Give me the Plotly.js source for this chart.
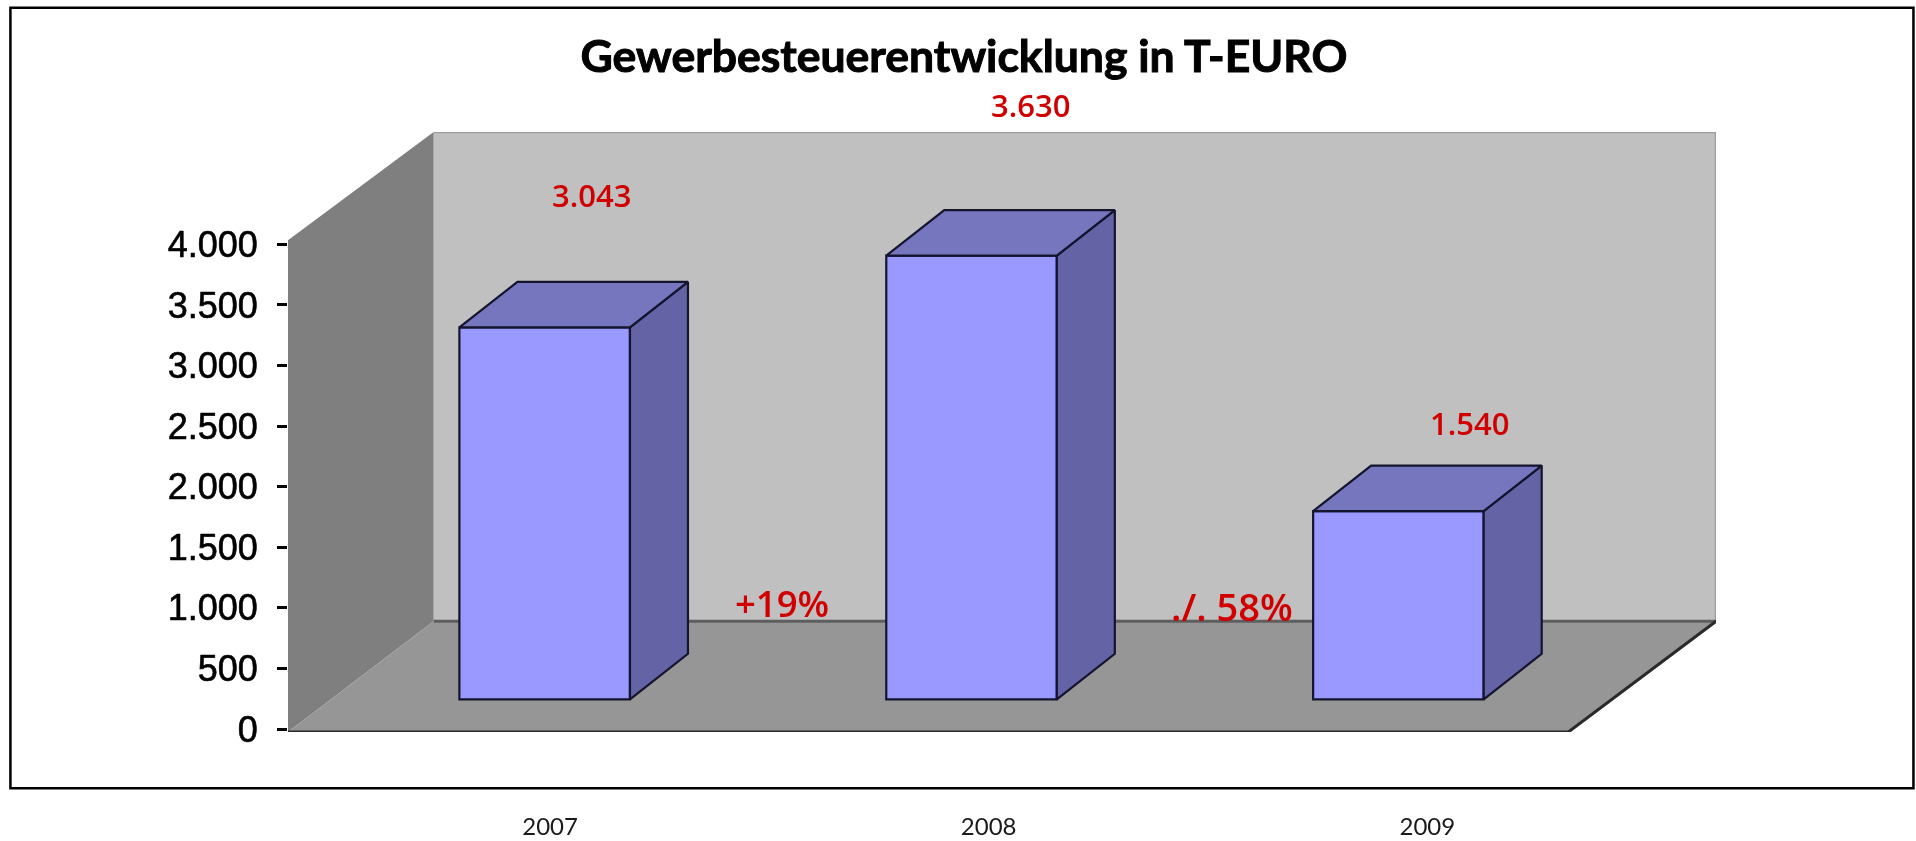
<!DOCTYPE html>
<html>
<head>
<meta charset="utf-8">
<script src="https://cdn.plot.ly/plotly-3.0.1.min.js"></script>
<style>
html,body{margin:0;padding:0;background:#fff;overflow:hidden}
#chart{width:1916px;height:841px;filter:blur(0.4px)}
text.gtitle{stroke:#000;stroke-width:1px}
.ytick text{stroke:#000;stroke-width:0.6px}
</style>
</head>
<body>
<div id="chart"></div>
<script>
// ---- data ----
const years = [2007, 2008, 2009];
const values = [3043, 3630, 1540];
const valueLabels = ['3.043', '3.630', '1.540'];
const changeLabels = ['+19%', './. 58%'];
const yTicks = [0, 500, 1000, 1500, 2000, 2500, 3000, 3500, 4000];
const yTickLabels = ['0', '500', '1.000', '1.500', '2.000', '2.500', '3.000', '3.500', '4.000'];
const chartTitle = 'Gewerbesteuerentwicklung in T-EURO';

// ---- plot frame (page pixels) ----
const W = 1916, H = 841;
const L = 288, R = 1715.6, T = 131.7, B = 731.7;
const px = x => (x - L) / (R - L);
const py = y => (B - y) / (B - T);

// index axis: bar positions
const idxScale = 426.75, idx0 = 544.6;
const idxRange = [(L - idx0) / idxScale, (R - idx0) / idxScale];
const toIdx = x => (x - idx0) / idxScale;
// visible value axis
const yScale = 0.12116, yZero = 728.7;
const yRange = [(yZero - B) / yScale, (yZero - T) / yScale];
const toY = y => (yZero - y) / yScale;
// bar value axis (bars stand further back, on the floor)
const barScale = 0.1222, barZero = 699;
const barRange = [(barZero - B) / barScale, (barZero - T) / barScale];
// year label axis
const yearScale = 438.5, yearLeft = 550;
const yearRange = [years[0] + (L - yearLeft) / yearScale, years[0] + (R - yearLeft) / yearScale];

const barW = 170.5 / idxScale;
const dX = 58 / idxScale, dY = 45.5 / barScale;

function poly(xs, ys, fill, line, lw, yaxis) {
  return {
    type: 'scatter', mode: lw ? 'lines' : 'none', x: xs, y: ys, fill: 'toself', fillcolor: fill,
    line: {color: line || fill, width: lw || 0}, xaxis: 'x', yaxis: yaxis || 'y',
    hoverinfo: 'skip', cliponaxis: false
  };
}
function seg(xs, ys, color, w) {
  return {
    type: 'scatter', mode: 'lines', x: xs, y: ys, line: {color: color, width: w},
    xaxis: 'x', yaxis: 'y', hoverinfo: 'skip', cliponaxis: false
  };
}

// room corners
const xFL = toIdx(L), xBL = toIdx(433.6), xFR = toIdx(1568), xBR = toIdx(R);
const yFront = toY(B), yRear = toY(621), yTop = toY(T), yWallFront = toY(240);

const room = [
  poly([xBL, xBR, xBR, xBL], [yRear, yRear, yTop, yTop], '#c0c0c0'),
  poly([xFL, xBL, xBL, xFL], [yFront, yRear, yTop, yWallFront], '#7f7f7f'),
  poly([xFL, xFR, xBR, xBL], [yFront, yFront, yRear, yRear], '#969696'),
  seg([xBL, xBR, xBR], [yTop, yTop, yRear], '#9c9c9c', 2.5),
  seg([xBL, xBR], [yRear, yRear], '#5e5e5e', 3),
  seg([xFL, xFR, xBR], [yFront, yFront, yRear], '#2a2a2a', 3)
];

const edge = '#14142e';
const idx = years.map((_, i) => i);
const barFront = {
  type: 'bar', x: idx, y: values, width: barW, xaxis: 'x', yaxis: 'y2',
  marker: {color: '#9999ff', line: {color: edge, width: 2.2}}, hoverinfo: 'skip'
};
const faces = [];
values.forEach((v, i) => {
  const a = i - barW / 2, b = i + barW / 2;
  faces.push(poly([b, b + dX, b + dX, b, b], [0, dY, v + dY, v, 0], '#6363a6', edge, 2.2, 'y2'));
  faces.push(poly([a, a + dX, b + dX, b, a], [v, v + dY, v + dY, v, v], '#7676bf', edge, 2.2, 'y2'));
});
const yearCarrier = {
  type: 'scatter', mode: 'markers', x: years, y: values, marker: {opacity: 0, size: 1},
  xaxis: 'x2', yaxis: 'y2', hoverinfo: 'skip'
};

const red = '#d00000';
function note(text, cx, cy, size) {
  return {
    text: text, xref: 'paper', yref: 'paper', x: px(cx), y: py(cy), xanchor: 'center', yanchor: 'middle',
    showarrow: false, font: {family: 'Open Sans', size: size, color: red, weight: 600}
  };
}

const layout = {
  width: W, height: H,
  margin: {l: L, r: W - R, t: T, b: H - B, pad: 0},
  paper_bgcolor: '#ffffff', plot_bgcolor: 'rgba(0,0,0,0)',
  showlegend: false, hovermode: false, barmode: 'overlay',
  title: {
    text: '<b>' + chartTitle + '</b>', x: 964 / W, xanchor: 'center', y: 1 - 56 / H, yanchor: 'middle',
    font: {family: 'Lato', size: 44.5, color: '#000000', weight: 900}
  },
  xaxis: {range: idxRange, visible: false, fixedrange: true},
  xaxis2: {
    range: yearRange, overlaying: 'x', anchor: 'y', side: 'bottom', tickvals: years, ticktext: years.map(String),
    showgrid: false, zeroline: false, showline: false, ticks: '', ticklabelstandoff: 78,
    tickfont: {family: 'Lato', size: 24, color: '#1a1a1a'}, fixedrange: true
  },
  yaxis: {
    range: yRange, tickmode: 'array', tickvals: yTicks, ticktext: yTickLabels,
    showgrid: false, zeroline: false, showline: false, ticks: 'outside', ticklen: 10, tickwidth: 3, tickcolor: '#000',
    ticklabelstandoff: 12,
    tickfont: {family: 'Liberation Sans', size: 36, color: '#000000'}, fixedrange: true
  },
  yaxis2: {range: barRange, overlaying: 'y', visible: false, fixedrange: true},
  shapes: [{
    type: 'rect', xref: 'paper', yref: 'paper', layer: 'below',
    x0: px(10.5), x1: px(1913), y0: py(788), y1: py(7.5),
    fillcolor: '#ffffff', line: {color: '#000000', width: 2.5}
  }],
  annotations: [
    note(valueLabels[0], 591, 194.5, 31),
    note(valueLabels[1], 1030, 104.5, 31),
    note(valueLabels[2], 1469, 422.5, 31),
    note(changeLabels[0], 782, 602.5, 36.5),
    note(changeLabels[1], 1232, 606, 38)
  ]
};

Plotly.newPlot('chart', room.concat([barFront], faces, [yearCarrier]), layout, {displayModeBar: false, staticPlot: true});
</script>
</body>
</html>
